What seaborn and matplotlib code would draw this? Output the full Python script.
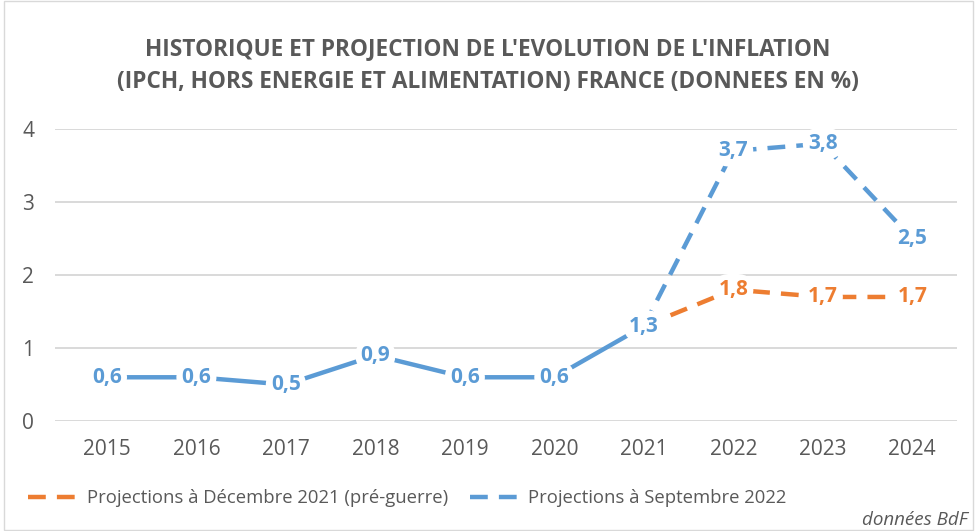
import matplotlib
matplotlib.use("Agg")
import matplotlib.pyplot as plt
import seaborn as sns
import pandas as pd

# =========================
# Données
# =========================
annees = [2015, 2016, 2017, 2018, 2019, 2020, 2021, 2022, 2023, 2024]
proj_dec2021 = [0.6, 0.6, 0.5, 0.9, 0.6, 0.6, 1.3, 1.8, 1.7, 1.7]
proj_sep2022 = [0.6, 0.6, 0.5, 0.9, 0.6, 0.6, 1.3, 3.7, 3.8, 2.5]
derniere_annee_hist = 2021
label_dec = "Projections à Décembre 2021 (pré-guerre)"
label_sep = "Projections à Septembre 2022"
titre = ("HISTORIQUE ET PROJECTION DE L'EVOLUTION DE L'INFLATION\n"
         "(IPCH, HORS ENERGIE ET ALIMENTATION) FRANCE (DONNEES EN %)")

bleu = "#5B9BD5"
orange = "#ED7D31"
gris = "#595959"

df = pd.DataFrame({"annee": annees, "dec": proj_dec2021, "sep": proj_sep2022})
hist = df[df["annee"] <= derniere_annee_hist]
proj = df[df["annee"] >= derniere_annee_hist]

sns.set_style("white")
plt.rcParams["font.family"] = ["Open Sans", "DejaVu Sans"]

fig = plt.figure(figsize=(9.76, 5.31), dpi=100)
ax = fig.add_axes([0.0564, 0.207, 0.9241, 0.55])

lw = 3.2
sns.lineplot(data=proj, x="annee", y="dec", ax=ax, color=orange, lw=lw,
             linestyle=(0, (4, 2.5)), label=label_dec)
sns.lineplot(data=proj, x="annee", y="sep", ax=ax, color=bleu, lw=lw,
             linestyle=(0, (4, 2.5)), label=label_sep)
sns.lineplot(data=hist, x="annee", y="sep", ax=ax, color=bleu, lw=lw,
             linestyle="-", label="_nolegend_")

# Etiquettes de valeurs
def etiquette(x, y, couleur):
    ax.text(x, y, f"{y:.1f}".replace(".", ","), ha="center", va="center",
            fontsize=15, fontweight="bold", color=couleur, zorder=5,
            bbox=dict(boxstyle="round,pad=0.25,rounding_size=0.8",
                      fc="white", ec="none"))

for a, v in zip(annees, proj_sep2022):
    etiquette(a, v, bleu)
for a, v in zip(annees, proj_dec2021):
    if a > derniere_annee_hist:
        etiquette(a, v, orange)

ax.set_xlim(2014.42, 2024.5)
ax.set_ylim(0, 4)
ax.set_xticks(annees)
ax.set_yticks([0, 1, 2, 3, 4])
ax.tick_params(axis="x", labelsize=15, colors=gris, pad=13, length=0)
ax.tick_params(axis="y", labelsize=15, colors=gris, pad=15, length=0)
ax.grid(axis="y", color="#D9D9D9", lw=1.4)
ax.set_axisbelow(True)
for s in ax.spines.values():
    s.set_visible(False)
ax.set_xlabel("")
ax.set_ylabel("")

fig.suptitle(titre, y=0.931, fontsize=16.3, fontweight="bold", color=gris,
             linespacing=1.53)

leg = ax.legend(loc="upper left", bbox_to_anchor=(-0.048, -0.177), ncol=2,
                frameon=False, fontsize=13.3, handlelength=3.0,
                handletextpad=0.15, columnspacing=1.2, labelcolor=gris)

fig.text(0.992, 0.02, "données BdF", ha="right", va="center",
         fontsize=13.5, style="italic", color=gris)

fig.patches.append(plt.Rectangle((0.004, 0.002), 0.993, 0.996, fill=False,
                                 edgecolor="#D9D9D9", lw=1,
                                 transform=fig.transFigure, figure=fig))

fig.savefig("out.png", dpi=100)
